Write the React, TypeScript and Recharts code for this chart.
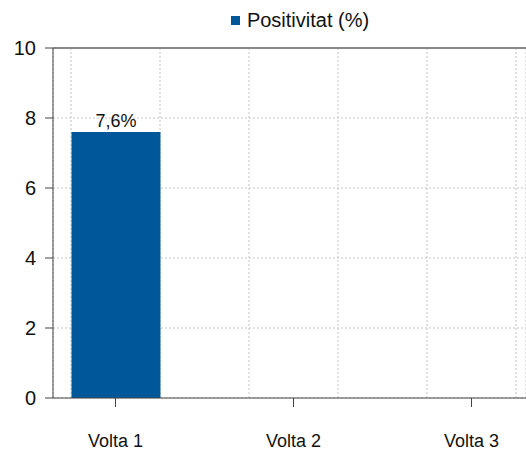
import {
  Bar,
  BarChart,
  CartesianGrid,
  LabelList,
  ReferenceLine,
  XAxis,
  YAxis,
} from "recharts"

const CATEGORIES = ["Volta 1", "Volta 2", "Volta 3"]
const POSITIVITY = [7.6, null, null]
const Y_TICKS = [0, 2, 4, 6, 8, 10]
const SERIES_NAME = "Positivitat (%)"

const data = CATEGORIES.map((label, i) => ({ x: i + 1, label, value: POSITIVITY[i] }))
// grid lines sit on the band edges, half a bar away from each category
const gridTicks = data.flatMap((d) => [d.x - 0.25, d.x + 0.25])

const X_DOMAIN = [0.649, 3.306]
const FONT = "'Liberation Sans', Arial, sans-serif"
const BLUE = "#00589a"

export default function App() {
  return (
    <div style={{ position: "absolute", left: 0, top: 0, width: 526, height: 452, fontFamily: FONT }}>
      <div
        style={{
          position: "absolute",
          top: 8,
          left: 74,
          width: 452,
          textAlign: "center",
          fontSize: 20,
          lineHeight: "24px",
          color: "#111",
          zIndex: 2,
        }}
      >
        <span
          style={{
            display: "inline-block",
            width: 9,
            height: 9,
            background: BLUE,
            marginRight: 7,
            verticalAlign: 2,
          }}
        />
        {SERIES_NAME}
      </div>
      <BarChart
        width={526}
        height={452}
        data={data}
        margin={{ top: 48, right: 0, bottom: 0, left: 0 }}
      >
        <CartesianGrid xAxisId="grid" stroke="#c4c4c4" strokeDasharray="2 2" />
        <XAxis
          dataKey="x"
          type="number"
          domain={X_DOMAIN}
          allowDataOverflow
          ticks={data.map((d) => d.x)}
          tickFormatter={(v: number) => CATEGORIES[v - 1]}
          height={54}
          tickSize={9}
          tickMargin={27}
          stroke="#444"
          tick={{ fill: "#111", fontSize: 18, fontFamily: FONT }}
        />
        <XAxis
          xAxisId="grid"
          dataKey="x"
          type="number"
          domain={X_DOMAIN}
          allowDataOverflow
          ticks={gridTicks}
          hide
        />
        <YAxis
          domain={[0, 10]}
          ticks={Y_TICKS}
          width={53}
          tickSize={8}
          tickMargin={9}
          stroke="#444"
          tick={{ fill: "#111", fontSize: 20, fontFamily: FONT }}
        />
        <ReferenceLine y={10} stroke="#888" strokeWidth={2} />
        <Bar dataKey="value" fill={BLUE} barSize={89} isAnimationActive={false}>
          <LabelList
            dataKey="value"
            position="top"
            fill="#111"
            fontSize={18}
            fontFamily={FONT}
            formatter={(v: number) => (v == null ? "" : `${String(v).replace(".", ",")}%`)}
          />
        </Bar>
      </BarChart>
    </div>
  )
}
